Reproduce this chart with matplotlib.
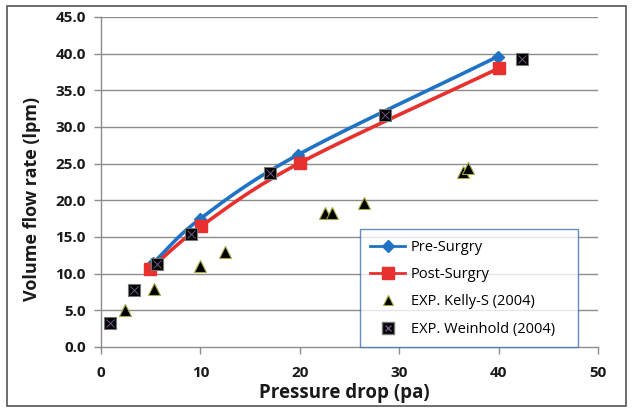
import numpy as np
import matplotlib
matplotlib.use("Agg")
import matplotlib.pyplot as plt
from matplotlib.patches import Rectangle
from matplotlib.legend_handler import HandlerTuple

pre_x = [5.2, 10.0, 19.8, 39.9]
pre_y = [11.4, 17.5, 26.2, 39.6]
post_x = [4.9, 10.1, 20.0, 40.0]
post_y = [10.6, 16.5, 25.1, 38.0]
kelly_x = [2.4, 5.3, 10.0, 12.5, 22.5, 23.2, 26.5, 36.4, 36.9]
kelly_y = [5.0, 7.9, 11.0, 12.9, 18.3, 18.3, 19.7, 23.9, 24.4]
wein_x = [0.9, 3.3, 5.6, 9.1, 17.0, 28.6, 42.4]
wein_y = [3.3, 7.8, 11.3, 15.4, 23.7, 31.6, 39.3]

x_ticks = [0, 10, 20, 30, 40, 50]
y_ticks = [0, 5, 10, 15, 20, 25, 30, 35, 40, 45]

plt.rcParams['font.family'] = ['Open Sans', 'DejaVu Sans']

def smooth(x, y, n=30):
    # Catmull-Rom style smoothing for display (like Excel smoothed line)
    x = np.asarray(x, float); y = np.asarray(y, float)
    P = np.column_stack([x, y])
    P = np.vstack([2 * P[0] - P[1], P, 2 * P[-1] - P[-2]])
    out = []
    for i in range(1, len(P) - 2):
        p0, p1, p2, p3 = P[i - 1], P[i], P[i + 1], P[i + 2]
        t = np.linspace(0, 1, n)[:, None]
        seg = 0.5 * ((2 * p1) + (-p0 + p2) * t + (2 * p0 - 5 * p1 + 4 * p2 - p3) * t ** 2
                     + (-p0 + 3 * p1 - 3 * p2 + p3) * t ** 3)
        out.append(seg)
    out = np.vstack(out)
    return out[:, 0], out[:, 1]

fig = plt.figure(figsize=(6.33, 4.08), dpi=100)
ax = fig.add_axes([101 / 633, 1 - 347 / 408, (598 - 101) / 633, (347 - 17) / 408])

blue = '#1f72c4'
red = '#e8312f'

for yt in y_ticks[1:]:
    ax.axhline(yt, color='#8c8c8c', lw=1.0, zorder=0)

sx, sy = smooth(pre_x, pre_y)
ax.plot(sx, sy, color=blue, lw=2.6, zorder=2)
ax.plot(pre_x, pre_y, linestyle='none', marker='D', ms=6, color=blue, zorder=3)
sx, sy = smooth(post_x, post_y)
ax.plot(sx, sy, color=red, lw=2.6, zorder=2)
ax.plot(post_x, post_y, linestyle='none', marker='s', ms=9, color=red, zorder=3)

ax.plot(kelly_x, kelly_y, linestyle='none', marker='^', ms=8, color='black',
        markeredgecolor='#a8a840', markeredgewidth=0.8, zorder=4)
ax.plot(wein_x, wein_y, linestyle='none', marker='s', ms=9, color='black',
        markeredgecolor='#777777', markeredgewidth=0.8, zorder=4)
ax.plot(wein_x, wein_y, linestyle='none', marker='x', ms=6, color='#6f5a8a',
        markeredgewidth=0.7, zorder=5)

ax.set_xlim(0, 50)
ax.set_ylim(0, 45)
ax.set_xticks(x_ticks)
ax.set_yticks(y_ticks)
ax.set_yticklabels([f"{v:.1f}" for v in y_ticks])
for s in ['top', 'right']:
    ax.spines[s].set_visible(False)
for s in ['left', 'bottom']:
    ax.spines[s].set_color('#8c8c8c')
    ax.spines[s].set_linewidth(1.0)
ax.tick_params(axis='both', direction='out', color='#8c8c8c', length=5, width=1.0,
               labelsize=11, labelcolor='#1a1a1a')
ax.tick_params(axis='x', pad=9)
ax.tick_params(axis='y', pad=6)
for lbl in ax.get_xticklabels() + ax.get_yticklabels():
    lbl.set_fontweight('bold')

ax.set_xlabel('Pressure drop (pa)', fontsize=13.5, fontweight='bold', color='#1a1a1a')
ax.xaxis.set_label_coords(0.49, -0.108)
ax.set_ylabel('Volume flow rate (lpm)', fontsize=13, fontweight='bold', color='#1a1a1a')
ax.yaxis.set_label_coords(-0.12, 0.448)

h1, = ax.plot([], [], color=blue, lw=2, marker='D', ms=6)
h2, = ax.plot([], [], color=red, lw=2, marker='s', ms=8)
h3, = ax.plot([], [], linestyle='none', marker='^', ms=7, color='black',
              markeredgecolor='#a8a840', markeredgewidth=0.8)
h4a, = ax.plot([], [], linestyle='none', marker='s', ms=8, color='black',
               markeredgecolor='#777777')
h4b, = ax.plot([], [], linestyle='none', marker='x', ms=5, color='#6f5a8a')
leg = ax.legend([h1, h2, h3, (h4a, h4b)],
                ['Pre-Surgry', 'Post-Surgry', 'EXP. Kelly-S (2004)', 'EXP. Weinhold (2004)'],
                handler_map={tuple: HandlerTuple(ndivide=1)},
                loc='lower left', bbox_to_anchor=((360 - 101) / 497, 0.0, (578 - 360) / 497, (347 - 228) / 330),
                mode='expand', frameon=True, fancybox=False, fontsize=10.5,
                labelspacing=0.85, handlelength=2.4, handletextpad=0.4, borderpad=0.7, borderaxespad=0)
leg.get_frame().set_edgecolor('#3c6fb0')
leg.get_frame().set_linewidth(1.0)
leg.set_zorder(6)

fig.patches.append(Rectangle((7 / 633, 2 / 408), 619 / 633, 400 / 408, transform=fig.transFigure,
                             fill=False, edgecolor='#555555', lw=1.2))

fig.savefig('out.png', dpi=100)
